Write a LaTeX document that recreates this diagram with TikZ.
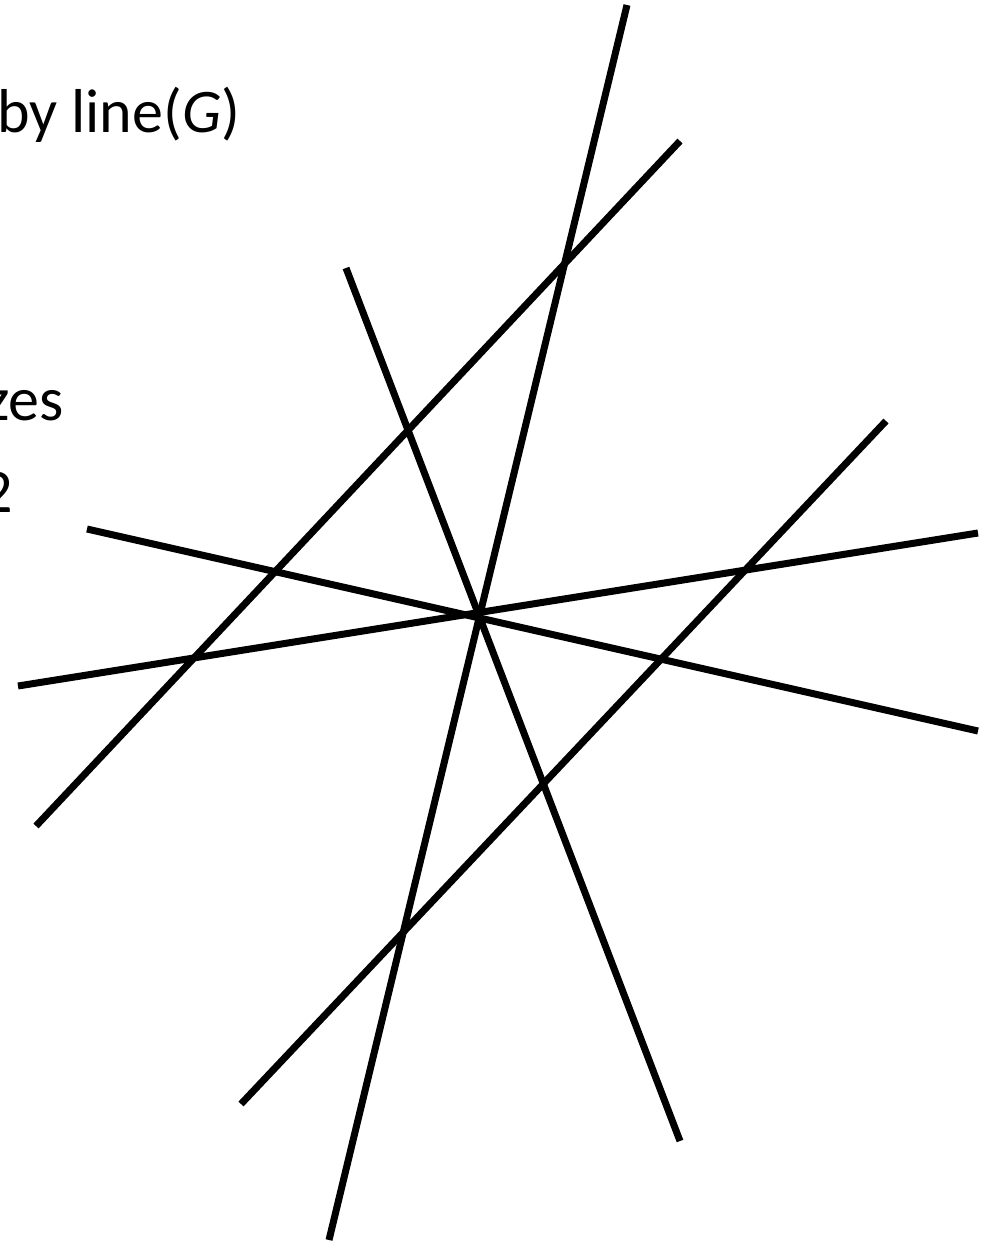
\documentclass[tikz,border=0pt]{standalone}
\usepackage{fontspec}
\setmainfont{Carlito}
\begin{document}
\begin{tikzpicture}[x=1pt,y=-1pt,
  ray/.style={line width=7pt,line cap=butt,black},
  lbl/.style={inner sep=0pt,font=\fontsize{62}{74}\selectfont}]
\useasboundingbox (0,0) rectangle (995,1242);
\clip (0,0) rectangle (995,1242);
% text (cut at the left edge, as in the reference)
\node[lbl,anchor=base west] (t1) at (-3,132) {by line(\textit{G})};
\node[lbl,anchor=base east] (t2) at (64,420) {zes};
\node[lbl,anchor=base east] (t3) at (13,512) {2};
% line end points
\coordinate (a1) at (627,5);   \coordinate (a2) at (329,1240);
\coordinate (b1) at (680,141); \coordinate (b2) at (36,826);
\coordinate (c1) at (346,268); \coordinate (c2) at (680,1141);
\coordinate (d1) at (886,421); \coordinate (d2) at (241,1104);
\coordinate (e1) at (87,529);  \coordinate (e2) at (978,731);
\coordinate (f1) at (18,686);  \coordinate (f2) at (978,533);
\draw[ray] (a1) -- (a2);
\draw[ray] (b1) -- (b2);
\draw[ray] (c1) -- (c2);
\draw[ray] (d1) -- (d2);
\draw[ray] (e1) -- (e2);
\draw[ray] (f1) -- (f2);
\end{tikzpicture}
\end{document}
